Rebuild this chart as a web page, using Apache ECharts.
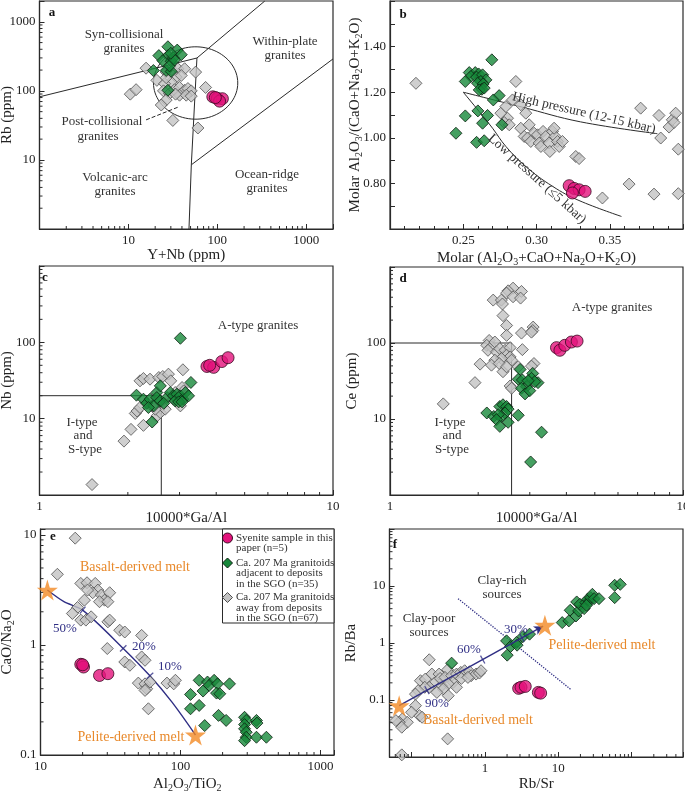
<!DOCTYPE html>
<html><head><meta charset="utf-8">
<script src="https://cdn.jsdelivr.net/npm/echarts@6/dist/echarts.min.js"></script>
<style>html,body{margin:0;padding:0;background:#fff}#c{width:685px;height:791px}</style>
</head><body><div id="c"></div>
<script>
// ---------------- DATA ----------------
// Panel a: Rb vs Y+Nb
const aGrey = [[10.5,89.6],[12.2,104],[15.8,213],[20.9,142],[26.6,187],[31.6,197],[36.0,209],[42.9,209],[34.5,158],[30.3,134],[25.5,127],[26.6,155],[39.3,167],[57.0,187],[24.8,100],[29.0,91.6],[33.0,104],[37.6,112],[42.9,102],[46.7,108],[50.9,100],[37.6,86.6],[44.7,86.6],[50.9,83.9],[33.9,89.6],[26.6,73.6],[23.4,62.4],[31.6,37.3],[60.5,29.0],[73.8,112]];
const aGreen = [[27.8,435],[35.4,389],[39.3,334],[22.0,324],[28.0,324],[24.4,274],[30.3,268],[19.1,197],[26.6,197],[30.3,191],[27.8,102],[32.0,300],[29.0,230],[33.0,280],[30.0,350]];
const aPink = [[89,82],[100,78],[114,77],[106,71],[95,80]];
const aBoundaries = [[[1,82],[59,299]],[[59,299],[342,2000]],[[59,299],[51,8.5],[48,1]],[[51,8.5],[2000,290]]];
const aPostCollCenter = [57,130];
const aPostCollRadius = [0.474,0.524];
const aLeader = [[15.8,38],[36,58]];

// Panel b
const bGrey = [[0.2177,1.239],[0.2859,1.247],[0.2757,1.108],[0.2791,1.137],[0.2836,1.166],[0.2893,1.145],[0.2802,1.086],[0.2780,1.067],[0.2814,1.057],[0.2893,1.042],[0.2927,1.108],[0.2950,1.057],[0.2984,1.020],[0.2916,1.006],[0.2939,0.999],[0.2961,0.984],[0.3007,1.013],[0.3018,0.977],[0.3045,1.028],[0.3030,0.962],[0.3064,1.006],[0.3086,0.977],[0.3109,1.028],[0.3127,1.006],[0.3143,0.984],[0.3155,0.962],[0.3177,0.984],[0.3091,0.940],[0.3120,1.042],[0.3268,0.918],[0.3291,0.909],[0.3450,0.736],[0.3632,0.797],[0.3711,1.130],[0.3848,0.999],[0.3836,1.098],[0.3905,1.047],[0.3927,1.079],[0.3950,1.108],[0.3939,1.067],[0.3968,0.950],[0.3802,0.753],[0.3968,0.755]];
const bGreen = [[0.2695,1.342],[0.2541,1.286],[0.2582,1.286],[0.2605,1.280],[0.2552,1.269],[0.2591,1.266],[0.2632,1.276],[0.2655,1.254],[0.2620,1.247],[0.2598,1.239],[0.2636,1.236],[0.2627,1.213],[0.2514,1.247],[0.2609,1.210],[0.2643,1.218],[0.2745,1.185],[0.2705,1.166],[0.2514,1.096],[0.2600,1.118],[0.2666,1.098],[0.2632,1.064],[0.2764,1.057],[0.2450,1.020],[0.2591,0.980],[0.2643,0.987]];
const bPink = [[0.3223,0.790],[0.3257,0.778],[0.3291,0.772],[0.3332,0.765],[0.3245,0.758]];
const bHighP = [[0.25,1.20],[0.29,1.135],[0.33,1.07],[0.3825,1.018]];
const bLowP = [[0.25,1.20],[0.2609,1.115],[0.27,1.042],[0.2791,0.962],[0.2927,0.874],[0.311,0.787],[0.329,0.725],[0.358,0.655]];

// Panel c
const cGrey = [[1.51,1.37],[1.94,5.08],[2.05,7.24],[2.26,8.17],[2.12,11.7],[2.15,12.6],[2.20,14.0],[2.20,31.3],[2.26,33.6],[2.38,32.9],[2.55,34.6],[2.63,35.7],[2.75,38.3],[2.80,31.3],[3.08,43.7],[3.06,25.6],[3.10,23.1],[3.02,14.7],[2.51,10.8],[2.58,12.0],[2.61,14.7],[2.68,13.3],[2.48,13.3],[2.42,14.7],[2.90,22.0],[2.98,19.9],[2.86,18.0]];
const cGreen = [[3.02,113],[2.14,20.3],[2.42,9.04],[3.28,29.8],[2.26,18.0],[2.32,15.9],[2.38,18.0],[2.51,22.0],[2.58,26.9],[2.51,18.9],[2.45,14.7],[2.35,14.0],[2.58,17.1],[2.72,18.9],[2.79,22.0],[2.86,19.9],[2.94,20.9],[2.90,17.1],[3.02,19.9],[3.08,18.0],[3.14,22.0],[3.22,19.9],[2.98,16.6],[3.06,16.6],[2.65,15.9]];
const cPink = [[3.72,48.3],[3.92,47],[4.18,56],[4.39,62.9],[3.80,50]];
const cBoundary = [[1,20],[2.6,20],[2.6,1]];

// Panel d
const dGrey = [[2.63,527],[2.53,486],[2.81,477],[2.50,453],[2.63,406],[2.79,390],[2.25,367],[2.40,367],[2.42,326],[2.43,229],[2.50,170],[2.50,126],[2.81,135],[3.08,162],[3.07,146],[3.04,139],[2.18,108],[2.14,93.2],[2.22,88.7],[2.28,103],[2.16,80.2],[2.31,76.3],[2.37,84.4],[2.47,80.2],[2.57,86.9],[2.50,69.1],[2.57,65.6],[2.60,59.4],[2.40,62.5],[2.28,59.4],[2.22,51.1],[2.36,53.7],[2.43,41.9],[2.50,48.6],[2.74,48.6],[2.83,81.8],[2.03,52.7],[3.10,53.7],[3.04,49.6],[1.95,30.1],[1.52,15.8],[2.57,27.2],[2.60,25.4]];
const dGreen = [[2.78,44.9],[2.74,33.3],[2.83,32.6],[3.07,39.8],[3.04,34.3],[3.20,30.1],[2.92,26.7],[2.81,25.4],[2.89,21.4],[3.00,23.6],[3.12,31.0],[2.96,31.9],[2.14,12.0],[2.26,10.8],[2.37,14.6],[2.43,15.4],[2.50,14.6],[2.53,13.5],[2.47,12.0],[2.40,10.8],[2.34,11.4],[2.31,9.8],[2.37,8.0],[2.53,9.05],[2.74,11.2],[3.29,6.70],[3.02,2.72]];
const dPink = [[3.70,86.9],[3.80,80.2],[3.95,93.2],[4.16,103],[4.35,106]];
const dBoundary = [[1,100],[2.6,100],[2.6,1]];

// Panel e
const eGrey = [[17.7,9.33],[13.2,4.38],[19.4,3.62],[21.5,3.67],[24.6,3.62],[25.7,3.15],[23.6,2.98],[21.7,3.15],[27.2,2.84],[28.7,2.55],[31.2,2.98],[26.4,2.47],[30.3,2.47],[20.6,2.55],[18.4,2.19],[16.9,1.93],[19.4,1.68],[21.1,1.68],[23.0,1.80],[30.3,1.62],[31.2,1.68],[36.8,1.36],[40.0,1.31],[30.0,0.927],[40.0,0.70],[43.5,0.653],[52.8,1.22],[52.8,0.778],[55.8,0.725],[50.0,0.45],[55.8,0.443],[57.4,0.40],[60.7,0.46],[55.8,0.386],[59.0,0.263],[80.1,0.45],[89.5,0.443],[92.0,0.477]];
const eGreen = [[136,0.477],[156,0.46],[174,0.477],[160,0.428],[184,0.443],[118,0.355],[145,0.381],[136,0.282],[181,0.365],[191,0.36],[224,0.443],[187,0.229],[212,0.206],[118,0.263],[149,0.185],[287,0.22],[295,0.206],[287,0.189],[287,0.173],[295,0.161],[295,0.145],[287,0.135],[349,0.206],[352,0.195],[349,0.145],[411,0.145]];
const ePink = [[19.4,0.667],[20.3,0.63],[20.0,0.66],[26.4,0.528],[30.3,0.548]];
const eStars = [[11.2,3.15],[128,0.152]];
const eMixCurve = [[11.2,3.15],[14.7,2.47],[20,2.07],[39,0.93],[60.5,0.524],[87,0.302],[128,0.152]];
const eMixTicks = [[20,2.07],[39,0.93],[60.5,0.524]];
const eMixLabels = ['50%','20%','10%'];

// Panel f
const fGrey = [[0.174,0.508],[0.189,0.285],[0.237,0.285],[0.310,0.340],[0.132,0.218],[0.154,0.233],[0.205,0.198],[0.257,0.178],[0.174,0.167],[0.151,0.167],[0.123,0.146],[0.113,0.127],[0.245,0.239],[0.285,0.249],[0.351,0.267],[0.369,0.204],[0.409,0.285],[0.468,0.305],[0.529,0.326],[0.617,0.313],[0.649,0.267],[0.757,0.285],[0.840,0.297],[0.884,0.326],[0.316,0.191],[0.271,0.156],[0.221,0.136],[0.316,0.119],[0.409,0.167],[0.477,0.239],[0.586,0.249],[0.113,0.0796],[0.128,0.0532],[0.1,0.0609],[0.075,0.0466],[0.0875,0.0407],[0.0677,0.0407],[0.0611,0.0435],[0.0735,0.0333],[0.310,0.0208],[0.0735,0.0109],[0.139,0.0498]];
const fGreen = [[0.351,0.443],[1.97,1.09],[2.01,0.612],[2.23,0.869],[2.68,1.02],[2.74,0.916],[3.29,1.30],[4.05,1.43],[11.3,2.28],[13.9,2.44],[14.5,3.75],[17.4,2.98],[18.9,3.65],[17.8,5.25],[19.7,4.78],[23.7,5.11],[25.0,5.85],[26.8,5.47],[27.7,6.25],[29.1,7.15],[22.5,4.01],[24.2,4.59],[30.7,6.0],[35.8,6.0],[58.6,10.3],[69.8,10.7],[58.6,6.25]];
const fPink = [[2.88,0.16],[3.1,0.167],[3.54,0.173],[5.34,0.136],[5.74,0.132]];
const fStars = [[0.0677,0.0796],[6.56,2.05]];
const fMixArrow = [[0.0677,0.0796],[6.2,1.97]];
const fMixTicks = [[0.162,0.149],[0.931,0.513],[3.19,1.23]];
const fMixLabels = ['90%','60%','30%'];
const fDivider = [[0.43,6.0],[14.9,0.152]];

// Tick labels
const aXLabels = [10,100,1000], aYLabels = [10,100,1000];
const bXLabels = [0.25,0.30,0.35], bYLabels = [0.80,1.00,1.20,1.40];
const cXLabels = [1,10], cYLabels = [10,100];
const dXLabels = [1,10], dYLabels = [10,100];
const eXLabels = [10,100,1000], eYLabels = [0.1,1,10];
const fXLabels = [1,10], fYLabels = [0.1,1,10];

// ---------------- STYLE ----------------
const FONT = '"Liberation Serif", "Times New Roman", serif';
const INK = '#2a2a2a';
const NAVY = '#2f2e84';
const ORANGE = '#e8892b';
const STAR_PATH = 'path://M50,0 L61,35 L98,35 L68,57 L79,91 L50,70 L21,91 L32,57 L2,35 L39,35 Z';
const RICH = { s: { fontFamily: FONT, fontSize: 10, color: INK, verticalAlign: 'bottom', lineHeight: 12 } };

const gridBoxes = [
  {left:39.5, top:1, width:293.5, height:228},
  {left:390, top:1, width:293, height:228},
  {left:39.5, top:266, width:293.5, height:229},
  {left:390, top:267, width:293, height:228},
  {left:40.5, top:529, width:293.5, height:226},
  {left:389.5, top:529, width:293.5, height:228}
];

function fmt(list, digits) {
  return function (v) {
    for (const t of list) {
      if (Math.abs(v - t) <= Math.abs(t) * 1e-6) return digits != null ? t.toFixed(digits) : String(t);
    }
    return '';
  };
}
function axis(kind, gi, o) {
  const a = {
    type: o.type || 'log', gridIndex: gi, min: o.min, max: o.max,
    position: kind === 'x' ? 'bottom' : 'left',
    axisLine: {show: true, onZero: false, lineStyle: {color: INK, width: 1.2}},
    axisTick: {show: true, inside: true, length: 5, lineStyle: {color: INK, width: 1}},
    splitLine: {show: false}, minorSplitLine: {show: false},
    axisLabel: {show: true, margin: kind === 'x' ? 5 : 4, color: '#222', fontFamily: FONT, fontSize: 13,
      formatter: fmt(o.labels, o.digits), showMinLabel: true, showMaxLabel: true, hideOverlap: false},
    name: o.name, nameLocation: 'middle', nameGap: o.nameGap, nameMoveOverlap: false,
    nameTextStyle: {fontFamily: FONT, fontSize: 15, color: '#222', lineHeight: 18, rich: RICH}
  };
  if (a.type === 'log') a.logBase = 10;
  if (o.interval) a.interval = o.interval;
  if (o.minor) a.minorTick = {show: true, splitNumber: o.minor, length: 3, lineStyle: {color: INK, width: 1}};
  return a;
}

const xAxes = [
  axis('x',0,{min:1,max:2000,labels:aXLabels,name:'Y+Nb (ppm)',nameGap:17}),
  axis('x',1,{type:'value',min:0.20,max:0.40,interval:0.05,minor:5,labels:bXLabels,digits:2,name:'Molar (Al{s|2}O{s|3}+CaO+Na{s|2}O+K{s|2}O)',nameGap:20}),
  axis('x',2,{min:1,max:10,labels:cXLabels,name:'10000*Ga/Al',nameGap:14}),
  axis('x',3,{min:1,max:10,labels:dXLabels,name:'10000*Ga/Al',nameGap:14}),
  axis('x',4,{min:10,max:1250,labels:eXLabels,name:'Al{s|2}O{s|3}/TiO{s|2}',nameGap:20}),
  axis('x',5,{min:0.05,max:500,labels:fXLabels,name:'Rb/Sr',nameGap:18})
];
const yAxes = [
  axis('y',0,{min:1,max:2000,labels:aYLabels,name:'Rb (ppm)',nameGap:23}),
  axis('y',1,{type:'value',min:0.6,max:1.6,interval:0.1,labels:bYLabels,digits:2,name:'Molar Al{s|2}O{s|3}/(CaO+Na{s|2}O+K{s|2}O)',nameGap:26}),
  axis('y',2,{min:1,max:1000,labels:cYLabels,name:'Nb (ppm)',nameGap:23}),
  axis('y',3,{min:1,max:1000,labels:dYLabels,name:'Ce (ppm)',nameGap:29}),
  axis('y',4,{min:0.1,max:11.3,labels:eYLabels,name:'CaO/Na{s|2}O',nameGap:24}),
  axis('y',5,{min:0.01,max:100,labels:fYLabels,name:'Rb/Ba',nameGap:29})
];

// minor ticks for log axes, positioned through the axis scale
function minorTicks(gi, dim, min, max, otherMin) {
  const vals = [];
  for (let d = Math.floor(Math.log10(min)) - 1; d <= Math.ceil(Math.log10(max)); d++) {
    for (let k = 2; k <= 9; k++) {
      const v = k * Math.pow(10, d);
      if (v > min * 1.0001 && v < max * 0.9999) vals.push(v);
    }
  }
  return {
    type: 'custom', xAxisIndex: gi, yAxisIndex: gi, silent: true, z: 5, clip: false,
    data: vals.map(v => dim === 'x' ? [v, otherMin] : [otherMin, v]),
    renderItem: function (params, api) {
      const cs = params.coordSys;
      const p = api.coord([api.value(0), api.value(1)]);
      const shape = dim === 'x'
        ? {x1: p[0], y1: cs.y + cs.height, x2: p[0], y2: cs.y + cs.height - 3}
        : {x1: cs.x, y1: p[1], x2: cs.x + 3, y2: p[1]};
      return {type: 'line', shape: shape, style: {stroke: INK, lineWidth: 1}};
    }
  };
}

function sc(gi, data, kind) {
  const st = {
    grey: {symbol: 'diamond', size: 12, item: {color: '#c3c3c3', borderColor: '#505050', borderWidth: 1}},
    green: {symbol: 'diamond', size: 12, item: {color: '#17883a', borderColor: '#0b1f10', borderWidth: 1}},
    pink: {symbol: 'circle', size: 12, item: {color: '#e3137c', borderColor: '#3a0a22', borderWidth: 1}},
    star: {symbol: STAR_PATH, size: 21, item: {color: '#f28a24', borderColor: '#f28a24', borderWidth: 0}}
  }[kind];
  return {type: 'scatter', xAxisIndex: gi, yAxisIndex: gi, data: data, symbol: st.symbol, symbolSize: st.size,
    itemStyle: st.item, z: kind === 'star' ? 6 : 3, silent: true};
}
function ln(gi, data, style, smooth) {
  return {type: 'line', xAxisIndex: gi, yAxisIndex: gi, data: data, symbol: 'none', smooth: smooth || false,
    silent: true, z: 2, lineStyle: Object.assign({color: INK, width: 1}, style)};
}
function pctTicks(gi, data, rots) {
  return {type: 'scatter', xAxisIndex: gi, yAxisIndex: gi, silent: true, z: 4,
    data: data.map((p, i) => ({value: p, symbolRotate: rots[i]})),
    symbol: 'rect', symbolSize: [1.3, 9], itemStyle: {color: NAVY}};
}

const series = [];
// a
aBoundaries.forEach(b => series.push(ln(0, b)));
series.push(ln(0, aLeader, {type: 'dashed', width: 1}));
series.push({
  type: 'custom', xAxisIndex: 0, yAxisIndex: 0, silent: true, z: 2, data: [aPostCollCenter],
  renderItem: function (params, api) {
    const cx = Math.log10(api.value(0)), cy = Math.log10(api.value(1));
    const pts = [];
    for (let i = 0; i <= 90; i++) {
      const t = i / 90 * 2 * Math.PI;
      pts.push(api.coord([Math.pow(10, cx + aPostCollRadius[0] * Math.cos(t)), Math.pow(10, cy + aPostCollRadius[1] * Math.sin(t))]));
    }
    return {type: 'polyline', shape: {points: pts}, style: {stroke: INK, fill: 'none', lineWidth: 1}};
  }
});
series.push(sc(0, aGrey, 'grey'), sc(0, aGreen, 'green'), sc(0, aPink, 'pink'));
// b
series.push(ln(1, bHighP, {}, 0.4), ln(1, bLowP, {}, 0.4));
series.push(sc(1, bGrey, 'grey'), sc(1, bGreen, 'green'), sc(1, bPink, 'pink'));
// c
series.push(ln(2, cBoundary));
series.push(sc(2, cGrey, 'grey'), sc(2, cGreen, 'green'), sc(2, cPink, 'pink'));
// d
series.push(ln(3, dBoundary));
series.push(sc(3, dGrey, 'grey'), sc(3, dGreen, 'green'), sc(3, dPink, 'pink'));
// e
series.push(ln(4, eMixCurve, {color: NAVY, width: 1.4}, 0.3));
series.push(pctTicks(4, eMixTicks, [-39, -45, -48]));
series.push(sc(4, eGrey, 'grey'), sc(4, eGreen, 'green'), sc(4, ePink, 'pink'), sc(4, eStars, 'star'));
// f
series.push(ln(5, fDivider, {color: NAVY, type: 'dotted', width: 1.3}));
series.push({type: 'line', xAxisIndex: 5, yAxisIndex: 5, data: [], silent: true,
  markLine: {silent: true, symbol: ['none', 'arrow'], symbolSize: [7, 9], label: {show: false},
    lineStyle: {color: NAVY, width: 1.4, type: 'solid'}, animation: false,
    data: [[{coord: fMixArrow[0]}, {coord: fMixArrow[1]}]]}});
series.push(pctTicks(5, fMixTicks, [29, 29, 29]));
series.push(sc(5, fGrey, 'grey'), sc(5, fGreen, 'green'), sc(5, fPink, 'pink'), sc(5, fStars, 'star'));

// minor ticks
series.push(minorTicks(0,'x',1,2000,1), minorTicks(0,'y',1,2000,1));
series.push(minorTicks(2,'x',1,10,1), minorTicks(2,'y',1,1000,1));
series.push(minorTicks(3,'x',1,10,1), minorTicks(3,'y',1,1000,1));
series.push(minorTicks(4,'x',10,1250,0.1), minorTicks(4,'y',0.1,11.3,10));
series.push(minorTicks(5,'x',0.05,500,0.01), minorTicks(5,'y',0.01,100,0.05));

// ---------------- ANNOTATIONS ----------------
function t(x, y, text, o) {
  o = o || {};
  return {type: 'text', x: x, y: y, rotation: (o.rot || 0) * Math.PI / 180, z: 50, silent: true,
    style: {text: text, fill: o.color || '#333', font: (o.bold ? 'bold ' : '') + (o.size || 13) + 'px ' + FONT,
      align: o.align || 'center', verticalAlign: 'middle'}};
}
const graphics = [
  t(52,13,'a',{bold:true,color:'#111'}),
  t(124,35,'Syn-collisional'), t(124,49,'granites'),
  t(285,42,'Within-plate'), t(285,56,'granites'),
  t(102,122,'Post-collisional'), t(98,137,'granites'),
  t(115,178,'Volcanic-arc'), t(115,192,'granites'),
  t(267,175,'Ocean-ridge'), t(267,189,'granites'),

  t(403,15,'b',{bold:true,color:'#111'}),
  t(584,113,'High pressure (12-15 kbar)',{rot:-13,size:13.5}),
  t(537,179,'Low pressure (\u22645 kbar)',{rot:-42,size:13.5}),

  t(45,278,'c',{bold:true,color:'#111'}),
  t(258,326,'A-type granites'),
  t(82,423,'I-type'), t(83,436,'and'), t(85,450,'S-type'),

  t(403,279,'d',{bold:true,color:'#111'}),
  t(612,308,'A-type granites'),
  t(450,423,'I-type'), t(452,436,'and'), t(452,450,'S-type'),

  t(53,537,'e',{bold:true,color:'#111'}),
  t(135,567,'Basalt-derived melt',{color:ORANGE,size:14}),
  t(131,737,'Pelite-derived melt',{color:ORANGE,size:14}),
  t(65,629,eMixLabels[0],{color:NAVY}), t(144,647,eMixLabels[1],{color:NAVY}), t(170,667,eMixLabels[2],{color:NAVY}),

  t(395,545,'f',{bold:true,color:'#111'}),
  t(502,581,'Clay-rich'), t(502,595,'sources'),
  t(429,619,'Clay-poor'), t(429,633,'sources'),
  t(602,645,'Pelite-derived melt',{color:ORANGE,size:14}),
  t(478,720,'Basalt-derived melt',{color:ORANGE,size:14}),
  t(437,704,fMixLabels[0],{color:NAVY}), t(469,650,fMixLabels[1],{color:NAVY}), t(516,630,fMixLabels[2],{color:NAVY}),

  // legend box (panel e)
  {type:'rect', z:40, silent:true, shape:{x:222.5,y:529,width:111.5,height:94}, style:{fill:'#fff',stroke:INK,lineWidth:1}},
  {type:'circle', z:41, silent:true, shape:{cx:227.5,cy:538,r:5}, style:{fill:'#e3137c',stroke:'#3a0a22',lineWidth:1}},
  {type:'polygon', z:41, silent:true, shape:{points:[[227.5,558],[232.5,563],[227.5,568],[222.5,563]]}, style:{fill:'#17883a',stroke:'#0b1f10',lineWidth:1}},
  {type:'polygon', z:41, silent:true, shape:{points:[[227.5,592.5],[232.5,597.5],[227.5,602.5],[222.5,597.5]]}, style:{fill:'#c3c3c3',stroke:'#505050',lineWidth:1}},
  t(236,538,'Syenite sample in this',{align:'left',size:11}),
  t(236,548,'paper (n=5)',{align:'left',size:11}),
  t(236,563,'Ca. 207 Ma granitoids',{align:'left',size:11}),
  t(236,573.5,'adjacent to deposits',{align:'left',size:11}),
  t(236,584,'in the SGO (n=35)',{align:'left',size:11}),
  t(236,597.5,'Ca. 207 Ma granitoids',{align:'left',size:11}),
  t(236,608,'away from deposits',{align:'left',size:11}),
  t(236,618.5,'in the SGO (n=67)',{align:'left',size:11})
];

const chart = echarts.init(document.getElementById('c'), null, {renderer: 'canvas'});
chart.setOption({
  animation: false,
  backgroundColor: '#fff',
  grid: gridBoxes.map(g => Object.assign({show: true, borderColor: INK, borderWidth: 1.2, backgroundColor: 'transparent', containLabel: false, outerBoundsMode: 'none'}, g)),
  xAxis: xAxes,
  yAxis: yAxes,
  series: series,
  graphic: graphics
});
</script></body></html>
